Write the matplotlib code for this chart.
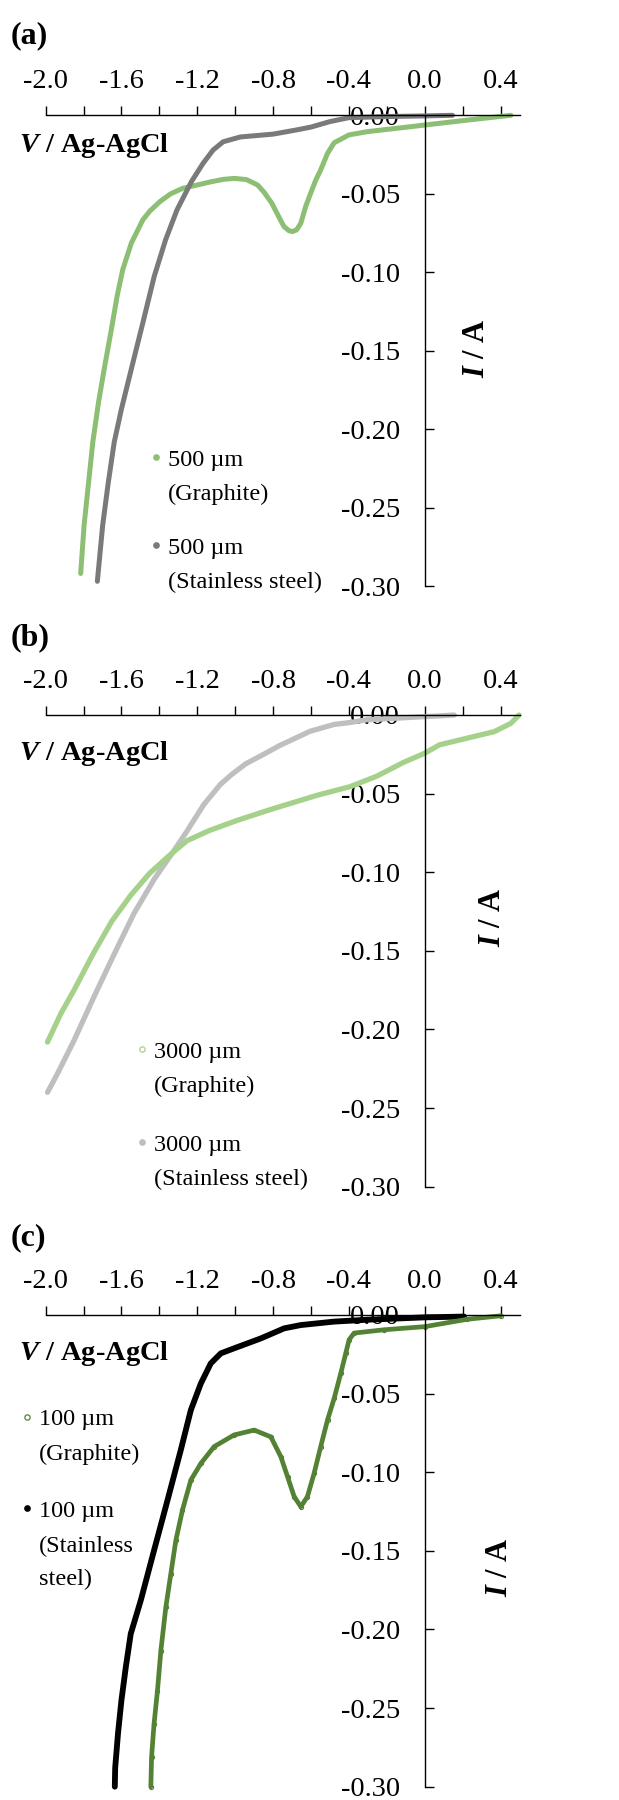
import numpy as np
import matplotlib
matplotlib.use("Agg")
import matplotlib.pyplot as plt

plt.rcParams['font.family'] = ['Liberation Serif', 'DejaVu Serif']
plt.rcParams['mathtext.fontset'] = 'custom'
plt.rcParams['mathtext.bfit'] = 'Liberation Serif:italic:bold'
plt.rcParams['mathtext.rm'] = 'Liberation Serif:bold'

# ---------------- data (V vs Ag-AgCl, I in A) ----------------
# (a) 500 um
a_gr_V = [0.454, 0.2, 0.0, -0.15, -0.302, -0.40, -0.478, -0.513, -0.549, -0.575, -0.60, -0.628,
          -0.654, -0.676, -0.698, -0.717, -0.742, -0.762, -0.807, -0.848, -0.882, -0.94, -1.003,
          -1.06, -1.125, -1.20, -1.276, -1.34, -1.397, -1.45, -1.487, -1.548, -1.593, -1.623,
          -1.653, -1.691, -1.721, -1.751, -1.773, -1.797, -1.815]
a_gr_I = [0.0, -0.0034, -0.0062, -0.0083, -0.0104, -0.0125, -0.0175, -0.0242, -0.0348, -0.0413,
          -0.049, -0.058, -0.0688, -0.073, -0.0741, -0.0735, -0.071, -0.0666, -0.056, -0.049,
          -0.0444, -0.041, -0.0402, -0.0408, -0.0423, -0.0444, -0.0465, -0.050, -0.055, -0.061,
          -0.0666, -0.0815, -0.0983, -0.1153, -0.1364, -0.1618, -0.183, -0.2083, -0.2337,
          -0.2613, -0.292]
a_ss_V = [0.146, 0.0, -0.2, -0.4, -0.5, -0.6, -0.671, -0.8, -0.973, -1.064, -1.117, -1.170,
          -1.231, -1.307, -1.367, -1.427, -1.487, -1.548, -1.600, -1.638, -1.669, -1.699, -1.727]
a_ss_I = [0.0, -0.0004, -0.0008, -0.0015, -0.004, -0.0075, -0.0092, -0.0120, -0.0138, -0.0169,
          -0.0222, -0.0307, -0.0423, -0.0603, -0.0793, -0.1026, -0.1322, -0.1618, -0.1872,
          -0.2083, -0.2337, -0.2613, -0.297]

# (b) 3000 um
b_gr_V = [0.497, 0.454, 0.366, 0.19, 0.077, 0.0, -0.11, -0.255, -0.395, -0.566, -0.811, -0.989,
          -1.137, -1.255, -1.344, -1.45, -1.55, -1.65, -1.75, -1.85, -1.92, -1.99]
b_gr_I = [0.0, -0.0053, -0.0106, -0.0157, -0.019, -0.0243, -0.030, -0.039, -0.0456, -0.051,
          -0.060, -0.067, -0.0735, -0.080, -0.089, -0.1005, -0.1145, -0.131, -0.152, -0.175,
          -0.190, -0.208]
b_ss_V = [0.155, 0.077, 0.0, -0.16, -0.302, -0.397, -0.478, -0.604, -0.767, -0.85, -0.944,
          -1.02, -1.077, -1.166, -1.255, -1.344, -1.425, -1.533, -1.638, -1.744, -1.85, -1.937,
          -1.99]
b_ss_I = [0.0, -0.0006, -0.001, -0.0021, -0.003, -0.0048, -0.006, -0.0103, -0.0195, -0.025,
          -0.031, -0.038, -0.044, -0.057, -0.074, -0.090, -0.104, -0.126, -0.152, -0.179, -0.207,
          -0.228, -0.240]

# (c) 100 um
c_gr_V = [0.40, 0.225, 0.0, -0.215, -0.373, -0.399, -0.417, -0.443, -0.478, -0.513, -0.549,
          -0.584, -0.619, -0.654, -0.689, -0.724, -0.759, -0.812, -0.90, -1.006, -1.111, -1.181,
          -1.234, -1.278, -1.313, -1.34, -1.366, -1.392, -1.41, -1.428, -1.441, -1.445]
c_gr_I = [-0.0005, -0.0027, -0.0074, -0.0094, -0.0115, -0.0157, -0.0244, -0.037, -0.053,
          -0.0667, -0.0837, -0.1008, -0.1155, -0.1219, -0.1155, -0.1028, -0.0902, -0.0775,
          -0.0732, -0.0763, -0.0837, -0.0944, -0.105, -0.124, -0.1433, -0.165, -0.186, -0.2134,
          -0.239, -0.260, -0.281, -0.300]
c_ss_V = [0.207, 0.0, -0.302, -0.478, -0.654, -0.742, -0.865, -1.006, -1.076, -1.129, -1.181,
          -1.234, -1.287, -1.357, -1.428, -1.498, -1.551, -1.577, -1.60, -1.618, -1.633, -1.635]
c_ss_I = [-0.001, -0.0015, -0.003, -0.0042, -0.0064, -0.0085, -0.0149, -0.0212, -0.0244,
          -0.0308, -0.0435, -0.0605, -0.0859, -0.1178, -0.1497, -0.1815, -0.2028, -0.224, -0.245,
          -0.266, -0.288, -0.300]

x_ticks = [-2.0, -1.8, -1.6, -1.4, -1.2, -1.0, -0.8, -0.6, -0.4, -0.2, 0.0, 0.2, 0.4]
x_labels = ['-2.0', '', '-1.6', '', '-1.2', '', '-0.8', '', '-0.4', '', '0.0', '', '0.4']
y_ticks = [0.0, -0.05, -0.10, -0.15, -0.20, -0.25, -0.30]
y_labels = ['0.00', '-0.05', '-0.10', '-0.15', '-0.20', '-0.25', '-0.30']

panel_labels = ['(a)', '(b)', '(c)']
legend_a = ['500 µm', '(Graphite)', '500 µm', '(Stainless steel)']
legend_b = ['3000 µm', '(Graphite)', '3000 µm', '(Stainless steel)']
legend_c = ['100 µm', '(Graphite)', '100 µm', '(Stainless', 'steel)']

# ---------------- figure ----------------
W, H = 619, 1800
fig = plt.figure(figsize=(W / 100, H / 100), dpi=100)

def fx(px):
    return px / W

def fy(py):
    return 1 - py / H

LEFT, RIGHT = 45.6, 519.6
panels = [(115.3, 586.0), (715.0, 1186.7), (1315.0, 1786.7)]
FS = 20.5

def make_axes(top, bottom):
    ax = fig.add_axes([fx(LEFT), fy(bottom), fx(RIGHT - LEFT), (bottom - top) / H])
    ax.set_xlim(-2.0, 0.5)
    ax.set_ylim(-0.30, 0.0)
    ax.patch.set_alpha(0)
    ax.spines['right'].set_visible(False)
    ax.spines['bottom'].set_visible(False)
    ax.spines['left'].set_position(('data', 0.0))
    for s in ('top', 'left'):
        ax.spines[s].set_linewidth(1.0)
    ax.xaxis.tick_top()
    ax.set_xticks(x_ticks)
    ax.set_xticklabels(x_labels)
    ax.set_yticks(y_ticks)
    ax.set_yticklabels(y_labels)
    ax.tick_params(axis='x', direction='out', length=6.2, width=1.0, labelsize=FS, pad=9)
    ax.tick_params(axis='y', direction='in', length=6.2, width=1.0, labelsize=FS, pad=18)
    return ax

axes = [make_axes(t, b) for t, b in panels]

# (a)
ax = axes[0]
ax.plot(a_gr_V, a_gr_I, color='#8CBF73', lw=3.6, solid_capstyle='round',
        solid_joinstyle='round', clip_on=False, zorder=2)
ax.plot(a_ss_V, a_ss_I, color='#7A7A7A', lw=3.6, solid_capstyle='round',
        solid_joinstyle='round', clip_on=False, zorder=2)
# (b)
ax = axes[1]
ax.plot(b_ss_V, b_ss_I, color='#BFBFBF', lw=3.8, solid_capstyle='round',
        solid_joinstyle='round', clip_on=False, zorder=2)
ax.plot(b_gr_V, b_gr_I, color='#A5D18B', lw=3.8, solid_capstyle='round',
        solid_joinstyle='round', clip_on=False, zorder=2)
# (c)
ax = axes[2]
ax.plot(c_ss_V, c_ss_I, color='#000000', lw=4.2, solid_capstyle='round',
        solid_joinstyle='round', clip_on=False, zorder=2)
ax.plot(c_gr_V, c_gr_I, color='#548235', lw=3.4, solid_capstyle='round',
        solid_joinstyle='round', clip_on=False, zorder=2)
ax.plot(c_gr_V, c_gr_I, 'o', ms=3.0, mfc='none', mec='#548235', mew=0.8, clip_on=False, zorder=2)

# axis titles
ylab_pos = [(477, 348), (492, 917), (500, 1567)]
xlab_base = [151.7, 760, 1360]
plab_base = [43, 645, 1245]
for i in range(3):
    fig.text(fx(ylab_pos[i][0]), fy(ylab_pos[i][1]), r'$\mathbfit{I}$ / A', rotation=90,
             ha='center', va='center', fontsize=22, fontweight='bold')
    fig.text(fx(19), fy(xlab_base[i]), r'$\mathbfit{V}$ / Ag-AgCl', ha='left', va='baseline',
             fontsize=FS, fontweight='bold')
    fig.text(fx(11), fy(plab_base[i]), panel_labels[i], ha='left', va='baseline',
             fontsize=23, fontweight='bold')

LFS = 17.5

def legend(lines, bases, tx, mx, my, styles):
    for s, b in zip(lines, bases):
        fig.text(fx(tx), fy(b), s, ha='left', va='baseline', fontsize=LFS)
    for (y, st) in zip(my, styles):
        fig.lines.append(plt.Line2D([fx(mx)], [fy(y)], transform=fig.transFigure, **st))

legend(legend_a, [465.7, 500, 554, 588.3], 168, 155.7, [456.7, 545],
       [dict(marker='o', ms=3.8, mfc='#8CBF73', mec='#8CBF73', ls='none'),
        dict(marker='o', ms=3.8, mfc='#7A7A7A', mec='#7A7A7A', ls='none')])
legend(legend_b, [1058.3, 1091.7, 1150.7, 1185], 154, 142, [1049.3, 1141.7],
       [dict(marker='o', ms=3.8, mfc='none', mec='#A5D18B', mew=0.9, ls='none'),
        dict(marker='o', ms=3.8, mfc='#BFBFBF', mec='#BFBFBF', ls='none')])
legend(legend_c, [1425, 1460, 1516.7, 1551.7, 1585], 39.3, 26.7, [1416.7, 1508.3],
       [dict(marker='o', ms=3.8, mfc='none', mec='#548235', mew=0.9, ls='none'),
        dict(marker='o', ms=3.8, mfc='#000000', mec='#000000', ls='none')])

fig.savefig('out.png', dpi=100)
